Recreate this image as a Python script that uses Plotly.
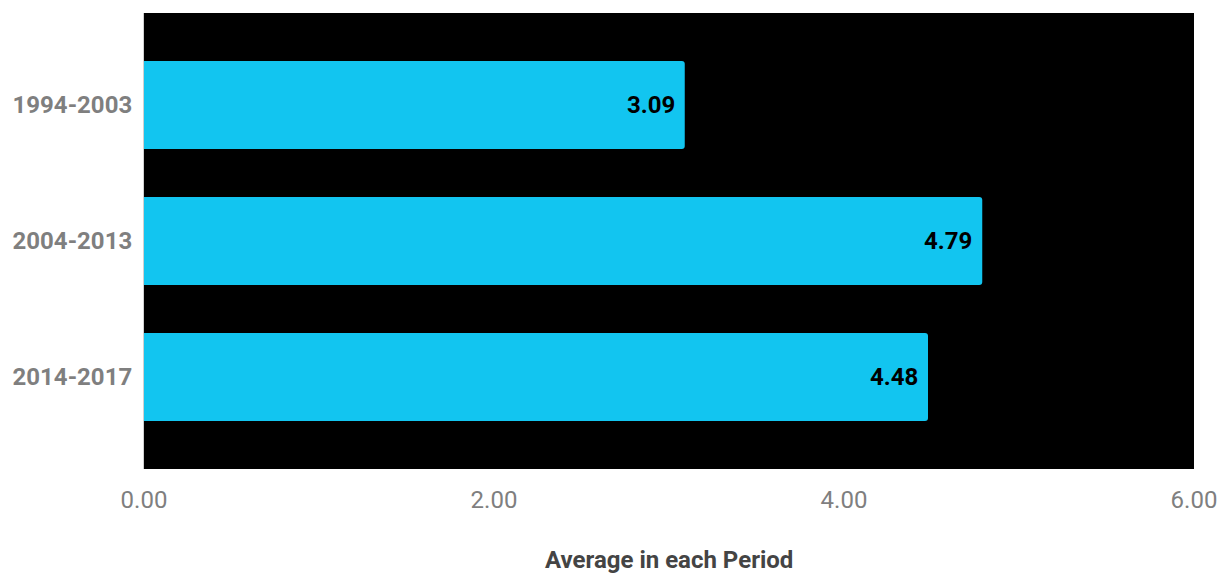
import plotly.graph_objects as go

periods = ["1994-2003", "2004-2013", "2014-2017"]
averages = [3.09, 4.79, 4.48]
x_ticks = [0, 2, 4, 6]
x_title = "Average in each Period"

fig = go.Figure(
    go.Bar(
        x=averages,
        y=periods,
        orientation="h",
        marker=dict(color="#12c5f0", line=dict(width=0)),
        width=0.647,
        hoverinfo="skip",
    )
)

# value labels at the inside end of each bar
for p, v in zip(periods, averages):
    fig.add_annotation(
        x=v, y=p, text=f"<b>{v:.2f}</b>", showarrow=False,
        xanchor="right", xshift=-8,
        font=dict(family="Roboto", size=24, color="#000000"),
    )

# x-axis title placed low under the tick labels
fig.add_annotation(
    x=0.5, xref="paper", y=0, yref="paper", yanchor="bottom", yshift=-107,
    text=f"<b>{x_title}</b>", showarrow=False,
    font=dict(family="Roboto", size=24, color="#444444"),
)

fig.update_layout(
    width=1219, height=573,
    margin=dict(l=144, r=25, t=13, b=104),
    paper_bgcolor="white",
    plot_bgcolor="#000000",
    barcornerradius=3,
    showlegend=False,
    font=dict(family="Roboto"),
)
fig.update_xaxes(
    range=[0, 6], tickvals=x_ticks, ticktext=[f"{t:.2f}" for t in x_ticks],
    showgrid=False, zeroline=False, showline=False, automargin=False,
    ticks="outside", ticklen=9, tickcolor="rgba(0,0,0,0)",
    tickfont=dict(family="Roboto", size=24, color="#7f7f7f"),
)
fig.update_yaxes(
    range=[2.676, -0.676],
    showgrid=False, zeroline=False, automargin=False,
    showline=True, linecolor="#d0d0d0", linewidth=1,
    ticks="outside", ticklen=6, tickcolor="rgba(0,0,0,0)",
    tickfont=dict(family="Roboto", size=24, color="#7f7f7f", weight="bold"),
)

fig.write_html("out.html")
